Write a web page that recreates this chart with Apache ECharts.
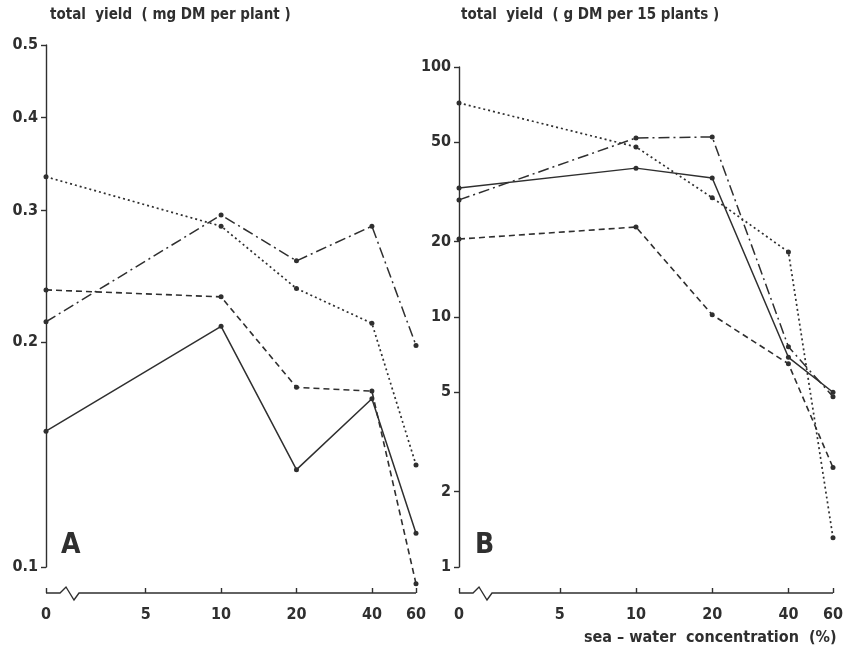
<!DOCTYPE html>
<html>
<head>
<meta charset="utf-8">
<script src="https://cdn.jsdelivr.net/npm/echarts@6/dist/echarts.min.js"></script>
<style>
  html, body { margin: 0; padding: 0; background: #fff; }
  #main { width: 858px; height: 656px; }
</style>
</head>
<body>
<div id="main"></div>
<script>
// sea-water concentration (%) of each treatment
var concentrations = [0, 10, 20, 40, 60];
var xTicks = [0, 5, 10, 20, 40, 60];
var yTicksA = [0.1, 0.2, 0.3, 0.4, 0.5];
var yTicksB = [1, 2, 5, 10, 20, 50, 100];

// panel A: total yield, mg DM per plant
var aDotted  = [0.333, 0.286, 0.236, 0.212, 0.137];
var aDashDot = [0.213, 0.296, 0.257, 0.286, 0.198];
var aDashed  = [0.235, 0.230, 0.174, 0.172, 0.095];
var aSolid   = [0.152, 0.210, 0.135, 0.168, 0.111];

// panel B: total yield, g DM per 15 plants
var bDotted  = [71.8, 47.9, 30.0, 18.2, 1.31];
var bDashDot = [29.4, 52.0, 52.5, 7.6, 4.8];
var bSolid   = [32.8, 39.4, 36.0, 6.9, 5.0];
var bDashed  = [20.5, 22.9, 10.2, 6.5, 2.5];

// the x axis is log2 with a break: 0 % sits where 2 % would be
var zeroPos = 2;
function xPos(c) { return c === 0 ? zeroPos : c; }

var ink = '#2f2f2f';
var font = "'DejaVu Sans Condensed', 'Liberation Sans Narrow', sans-serif";

var styles = {
    dotted:  { type: [2, 3], width: 1.7 },
    dashDot: { type: [11, 4, 2, 4], width: 1.5 },
    dashed:  { type: [6, 4], width: 1.6 },
    solid:   { type: 'solid', width: 1.5 }
};

function makeSeries(values, style, idx) {
    return {
        type: 'line',
        xAxisIndex: idx,
        yAxisIndex: idx,
        data: concentrations.map(function (c, i) { return [xPos(c), values[i]]; }),
        symbol: 'circle',
        symbolSize: 5,
        clip: false,
        itemStyle: { color: ink },
        lineStyle: { color: ink, width: style.width, type: style.type },
        z: 3
    };
}

function xAxisFor(idx) {
    return {
        type: 'log',
        logBase: 2,
        gridIndex: idx,
        min: zeroPos,
        max: 60,
        offset: 26,
        axisLine: { show: false },
        splitLine: { show: false },
        axisTick: {
            show: true, inside: true, length: 5,
            customValues: xTicks.map(xPos),
            lineStyle: { color: ink, width: 1.4 }
        },
        axisLabel: {
            customValues: xTicks.map(xPos),
            margin: 14,
            color: ink,
            fontFamily: font,
            fontWeight: 'bold',
            fontSize: 16,
            formatter: function (v) {
                var r = Math.round(v);
                return r === zeroPos ? '0' : String(r);
            }
        }
    };
}

function yAxisFor(idx, ticks, lo, hi, digits) {
    return {
        type: 'log',
        logBase: 10,
        gridIndex: idx,
        min: lo,
        max: hi,
        splitLine: { show: false },
        axisLine: { show: true, lineStyle: { color: ink, width: 1.4 } },
        axisTick: {
            show: true, length: 5,
            customValues: ticks,
            lineStyle: { color: ink, width: 1.4 }
        },
        axisLabel: {
            customValues: ticks,
            margin: 8,
            color: ink,
            fontFamily: font,
            fontWeight: 'bold',
            fontSize: 16,
            formatter: function (v) { return Number(v).toFixed(digits); }
        }
    };
}

var chart = echarts.init(document.getElementById('main'));

chart.setOption({
    animation: false,
    backgroundColor: '#fff',
    grid: [
        { left: 46, top: 45, width: 370, height: 522 },
        { left: 459, top: 67, width: 374, height: 500 }
    ],
    xAxis: [xAxisFor(0), xAxisFor(1)],
    yAxis: [yAxisFor(0, yTicksA, 0.1, 0.5, 1), yAxisFor(1, yTicksB, 1, 100, 0)],
    series: [
        makeSeries(aDotted, styles.dotted, 0),
        makeSeries(aDashDot, styles.dashDot, 0),
        makeSeries(aDashed, styles.dashed, 0),
        makeSeries(aSolid, styles.solid, 0),
        makeSeries(bDotted, styles.dotted, 1),
        makeSeries(bDashDot, styles.dashDot, 1),
        makeSeries(bSolid, styles.solid, 1),
        makeSeries(bDashed, styles.dashed, 1)
    ]
});

// x axis lines with the zig-zag break between 0 and 5
function brokenAxis(idx) {
    var p0 = chart.convertToPixel({ gridIndex: idx }, [zeroPos, 1]);
    var p1 = chart.convertToPixel({ gridIndex: idx }, [60, 1]);
    var rect = chart.getModel().getComponent('grid', idx).coordinateSystem.getRect();
    var y = rect.y + rect.height + 26;
    var z = p0[0] + 24;
    return {
        type: 'polyline',
        shape: {
            points: [[p0[0], y], [z - 10, y], [z - 4, y - 6], [z + 4, y + 7], [z + 9, y], [p1[0], y]]
        },
        style: { stroke: ink, lineWidth: 1.4, fill: null }
    };
}

function label(text, x, y, size, align) {
    return {
        type: 'text', left: x, top: y,
        style: {
            text: text, fill: ink, font: 'bold ' + size + 'px ' + font,
            textAlign: align || 'left'
        }
    };
}

chart.setOption({
    graphic: [
        brokenAxis(0),
        brokenAxis(1),
        label('total  yield  ( mg DM per plant )', 50, 8, 15),
        label('total  yield  ( g DM per 15 plants )', 461, 8, 15),
        label('A', 61, 532, 28),
        label('B', 475, 532, 28),
        label('sea – water  concentration  (%)', 584, 630, 16)
    ]
});
</script>
</body>
</html>
